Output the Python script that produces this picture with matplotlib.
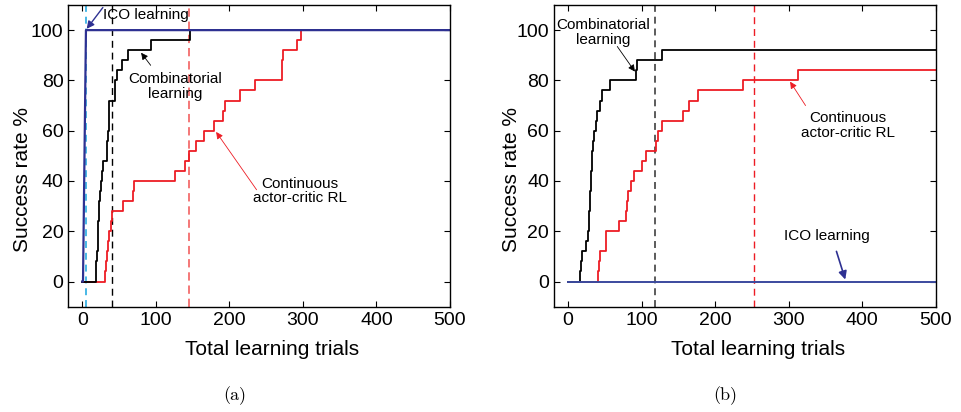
import matplotlib
matplotlib.use("Agg")
import matplotlib.pyplot as plt

plt.rcParams["font.family"] = ["Liberation Sans", "DejaVu Sans"]
plt.rcParams["lines.scale_dashes"] = False

# (a) success rate vs. trials; step curves hold each value until the next trial listed
comb_a_trials = [0, 18, 19, 20, 21, 22, 23, 24, 25, 27, 28, 33, 34, 35, 36, 37, 44, 45,
                 47, 54, 62, 93, 146, 500]
comb_a_rate = [0, 4, 8, 12, 16, 24, 32, 36, 40, 44, 48, 52, 56, 60, 68, 72, 76, 80,
               84, 88, 92, 96, 100, 100]
ac_a_trials = [0, 31, 32, 34, 35, 37, 39, 40, 55, 69, 71, 126, 140, 145, 155, 166, 179,
               192, 194, 214, 235, 271, 272, 273, 292, 297, 500]
ac_a_rate = [0, 4, 8, 12, 16, 20, 24, 28, 32, 36, 40, 44, 48, 52, 56, 60, 64,
             68, 72, 76, 80, 84, 88, 92, 96, 100, 100]
ico_a_trials = [0, 1, 5, 500]
ico_a_rate = [0, 0, 100, 100]
# trials needed to reach the final rate: ICO, combinatorial, actor-critic
done_a = [5, 40, 145]

# (b)
comb_b_trials = [0, 17, 18, 19, 25, 27, 28, 29, 30, 31, 32, 33, 34, 36, 38, 40, 44, 46,
                 57, 93, 94, 128, 500]
comb_b_rate = [0, 4, 8, 12, 16, 20, 24, 28, 36, 44, 48, 52, 56, 60, 64, 68, 72, 76,
               80, 84, 88, 92, 92]
ac_b_trials = [0, 41, 42, 43, 51, 52, 70, 79, 80, 81, 86, 90, 101, 106, 119, 122, 128,
               156, 164, 177, 238, 313, 500]
ac_b_rate = [0, 4, 8, 12, 16, 20, 24, 28, 32, 36, 40, 44, 48, 52, 56, 60, 64,
             68, 72, 76, 80, 84, 84]
ico_b_trials = [0, 500]
ico_b_rate = [0, 0]
done_b = [118, 253]

xticks = [0, 100, 200, 300, 400, 500]
yticks = [0, 20, 40, 60, 80, 100]

BLACK = "#000000"
RED = "#ED1C24"
NAVY = "#2E3192"
SKY = "#29ABE2"


def style_axes(ax, ylabel_x):
    ax.set_xlim(-19, 500)
    ax.set_ylim(-10, 110)
    ax.set_xticks(xticks)
    ax.set_yticks(yticks)
    ax.tick_params(direction="in", top=True, right=True, length=4, width=0.8,
                   labelsize=14, pad=3.5)
    for sp in ax.spines.values():
        sp.set_linewidth(1.0)
    ax.set_xlabel("Total learning trials", fontsize=15)
    ax.set_ylabel("Success rate %", fontsize=15)
    ax.xaxis.set_label_coords(0.534, -0.112)
    ax.yaxis.set_label_coords(ylabel_x, 0.42)


def arrow(ax, tip, start, color, lw=0.6, scale=10):
    ax.annotate("", xy=tip, xytext=start,
                arrowprops=dict(arrowstyle="-|>", color=color, lw=lw,
                                mutation_scale=scale, shrinkA=0, shrinkB=0))


fig = plt.figure(figsize=(9.62, 4.12), dpi=100)
ax1 = fig.add_axes([0.0710, 0.2556, 0.3968, 0.7323])
ax2 = fig.add_axes([0.5759, 0.2556, 0.3968, 0.7323])

# ----- (a) -----
ax1.axvline(done_a[0], color=SKY, lw=1.2, dashes=(5, 3.5))
ax1.axvline(done_a[1], color=BLACK, lw=1.0, dashes=(5, 3.5))
ax1.axvline(done_a[2], color="#F26060", lw=1.2, dashes=(6, 3.5))
ax1.plot(ac_a_trials, ac_a_rate, color=RED, lw=1.3, drawstyle="steps-post")
ax1.plot(comb_a_trials, comb_a_rate, color=BLACK, lw=1.3, drawstyle="steps-post")
ax1.plot(ico_a_trials, ico_a_rate, color=NAVY, lw=1.6)
style_axes(ax1, -0.095)

ax1.text(86, 106, "ICO learning", fontsize=11, ha="center", va="center")
arrow(ax1, (6, 100.5), (28, 109), NAVY, lw=1.0, scale=11)
ax1.text(126, 77.5, "Combinatorial\nlearning", fontsize=11, ha="center", va="center",
         linespacing=1.05)
arrow(ax1, (80, 91), (93, 86), BLACK)
ax1.text(296, 36, "Continuous\nactor-critic RL", fontsize=11, ha="center", va="center",
         linespacing=1.05)
arrow(ax1, (182, 59.5), (237, 36.5), RED)

# ----- (b) -----
ax2.axvline(done_b[0], color="#404040", lw=1.2, dashes=(5, 3.5))
ax2.axvline(done_b[1], color=RED, lw=1.0, dashes=(5, 3.5))
ax2.plot(ac_b_trials, ac_b_rate, color=RED, lw=1.3, drawstyle="steps-post")
ax2.plot(comb_b_trials, comb_b_rate, color=BLACK, lw=1.3, drawstyle="steps-post")
ax2.plot(ico_b_trials, ico_b_rate, color="#3B4A9E", lw=1.4)
style_axes(ax2, -0.087)

ax2.text(48, 99, "Combinatorial\nlearning", fontsize=11, ha="center", va="center",
         linespacing=1.05)
arrow(ax2, (91, 83.5), (67, 93.5), BLACK)
ax2.text(381, 62, "Continuous\nactor-critic RL", fontsize=11, ha="center", va="center",
         linespacing=1.05)
arrow(ax2, (302, 79.5), (323, 70), RED)
ax2.text(352, 18, "ICO learning", fontsize=11, ha="center", va="center")
arrow(ax2, (377, 0.8), (365, 12), NAVY, lw=1.2, scale=12)

fig.text(235 / 962, 1 - 396 / 412, "(a)", family="cmr10", fontsize=13,
         ha="center", va="center")
fig.text(725 / 962, 1 - 396 / 412, "(b)", family="cmr10", fontsize=13,
         ha="center", va="center")

fig.savefig("out.png", dpi=100)
